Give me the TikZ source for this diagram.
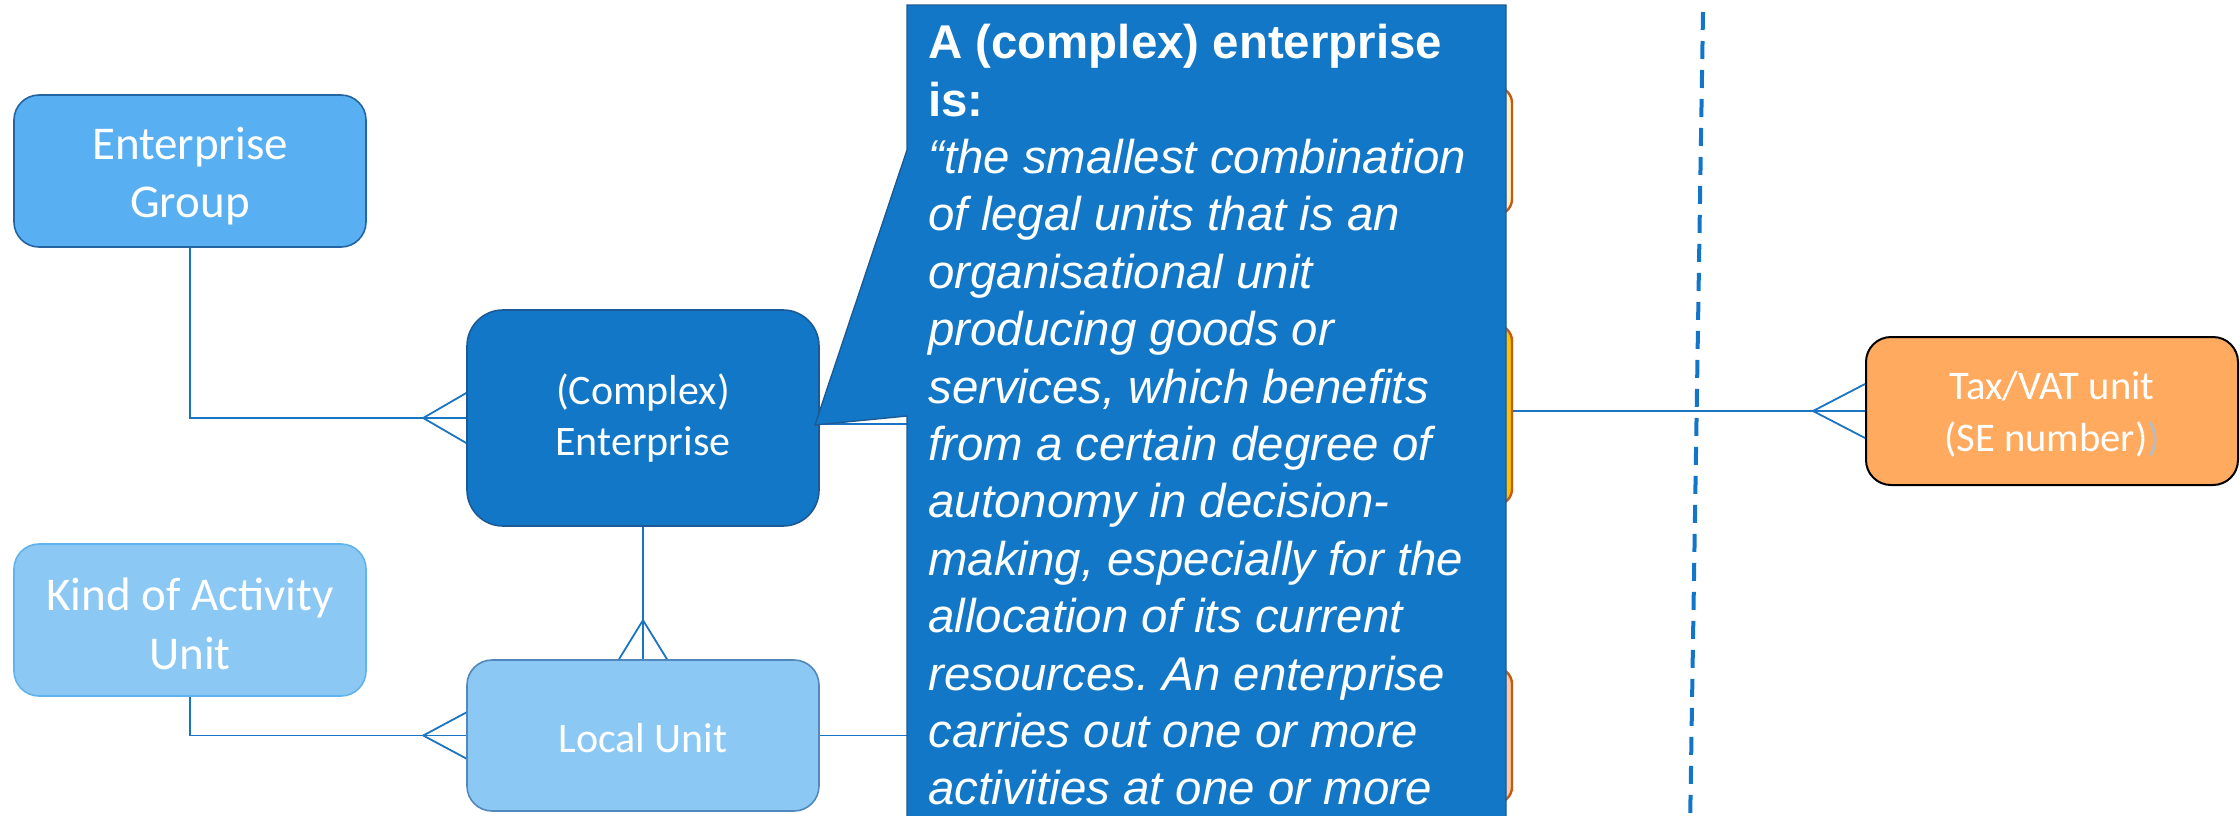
\documentclass[tikz,border=0pt]{standalone}
\usepackage{fontspec}
\setmainfont{Liberation Sans}
\newfontfamily\boxfont{Carlito}

\definecolor{egfill}{HTML}{58AFF1}
\definecolor{egline}{HTML}{2464A3}
\definecolor{cefill}{HTML}{1277C7}
\definecolor{celine}{HTML}{1B5A96}
\definecolor{kaufill}{HTML}{8CC8F4}
\definecolor{kauline}{HTML}{62B2EE}
\definecolor{luline}{HTML}{5288BC}
\definecolor{taxfill}{HTML}{FFAA5E}
\definecolor{orline}{HTML}{C55A11}
\definecolor{orcream}{HTML}{FFF0C8}
\definecolor{orgold}{HTML}{FFC000}
\definecolor{orpeach}{HTML}{F8C9A4}
\definecolor{connblue}{HTML}{1A74C4}
\definecolor{dashblue}{HTML}{1275C9}
\definecolor{fadedgrey}{HTML}{B4BCC4}

% invisible strut that lowers the text block of a box a little
\newcommand\lowerstrut[1]{\rule{0pt}{#1}}

\begin{document}
\frenchspacing
\begin{tikzpicture}[x=0.5pt,y=-0.5pt,
  unitbox/.style={draw, rounded corners=12.5pt, minimum width=176pt,
    minimum height=76pt, align=center, text=white, inner sep=0pt,
    line width=0.8pt},
  bigtext/.style={font=\boxfont\fontsize{23.5}{29.2}\selectfont},
  smalltext/.style={font=\boxfont\fontsize{21}{25.8}\selectfont},
  hiddenbox/.style={draw=orline, line width=1.2pt, rounded corners=8pt,
    minimum width=181pt, inner sep=0pt},
  conn/.style={draw=connblue, line width=0.9pt},
  dashline/.style={draw=dashblue, line width=2pt, dash pattern=on 9pt off 5.5pt},
  calloutshape/.style={fill=cefill, draw=celine, line width=0.7pt},
  deftext/.style={text=white, align=left, inner sep=0pt,
    font=\fontsize{23.7}{28.7}\selectfont\itshape}
]
\useasboundingbox (0,0) rectangle (2240,815);
\begin{scope}
\clip (0,0) rectangle (2240,815);

% units of the left-hand model
\node[unitbox, bigtext, fill=egfill, draw=egline] (eg) at (190,171)
  {\lowerstrut{21.5pt}Enterprise\\Group};
\node[unitbox, smalltext, fill=cefill, draw=celine, minimum height=108pt,
      rounded corners=18pt] (ce) at (643,418) {(Complex)\\Enterprise};
\node[unitbox, bigtext, fill=kaufill, draw=kauline] (kau) at (190,620)
  {\lowerstrut{20pt}Kind of Activity\\Unit};
\node[unitbox, smalltext, fill=kaufill, draw=luline, minimum height=75.5pt] (lu) at (643,735.5)
  {\lowerstrut{17.5pt}Local Unit};

% administrative units partly covered by the definition
\node[hiddenbox, fill=orcream, minimum height=64pt] (adtop) at (1331,151) {};
\node[hiddenbox, fill=orgold, minimum height=90pt] (admid) at (1331,415) {};
\node[hiddenbox, fill=orpeach, minimum height=67.5pt] (adbot) at (1331,735.5) {};

% tax unit
\node[unitbox, fill=taxfill, draw=black, minimum width=186pt, minimum height=74pt,
      line width=1pt, font=\boxfont\fontsize{20.3}{26}\selectfont]
      (tax) at (2052,411) {\lowerstrut{17pt}Tax/VAT unit\\(SE number){\color{fadedgrey})}};

% relationships
\draw[conn] (eg.south) |- (ce.west);
\draw[conn] ([xshift=-21.5pt]ce.west) -- ([yshift=12.5pt]ce.west);
\draw[conn] ([xshift=-21.5pt]ce.west) -- ([yshift=-12.5pt]ce.west);

\draw[conn] (kau.south) |- (lu.west);
\draw[conn] ([xshift=-21.5pt]lu.west) -- ([yshift=11.5pt]lu.west);
\draw[conn] ([xshift=-21.5pt]lu.west) -- ([yshift=-11.5pt]lu.west);

\draw[conn] (ce.south) -- (lu.north);
\draw[conn] ([yshift=19.5pt]lu.north) -- ([xshift=-12pt]lu.north);
\draw[conn] ([yshift=19.5pt]lu.north) -- ([xshift=12pt]lu.north);

\draw[conn] ([yshift=-3pt]ce.east) -- ([yshift=-3pt]ce.east -| admid.west);
\draw[conn] (lu.east) -- (lu.east -| adbot.west);

\draw[conn] (admid.east |- tax.west) -- (tax.west);
\draw[conn] ([xshift=-26pt]tax.west) -- ([yshift=13.5pt]tax.west);
\draw[conn] ([xshift=-26pt]tax.west) -- ([yshift=-13.5pt]tax.west);

% dividing line
\coordinate (divtop) at (1703,12);
\coordinate (divbot) at (1690,830);
\draw[dashline] (divtop) -- (divbot);

% definition callout
\coordinate (tip) at (815,425);
\path[calloutshape] (907,5) -- (1506,5) -- (1506,840) -- (907,840)
  -- (907,416) -- (tip) -- (907,150) -- cycle;

\node[deftext, anchor=north west] (def) at (928,24) {%
{\upshape\bfseries A (complex) enterprise}\\
{\upshape\bfseries is:}\\
“the smallest combination\\
of legal units that is an\\
organisational unit\\
producing goods or\\
services, which benefits\\
from a certain degree of\\
autonomy in decision-\\
making, especially for the\\
allocation of its current\\
resources. An enterprise\\
carries out one or more\\
activities at one or more};
\end{scope}
\end{tikzpicture}
\end{document}
